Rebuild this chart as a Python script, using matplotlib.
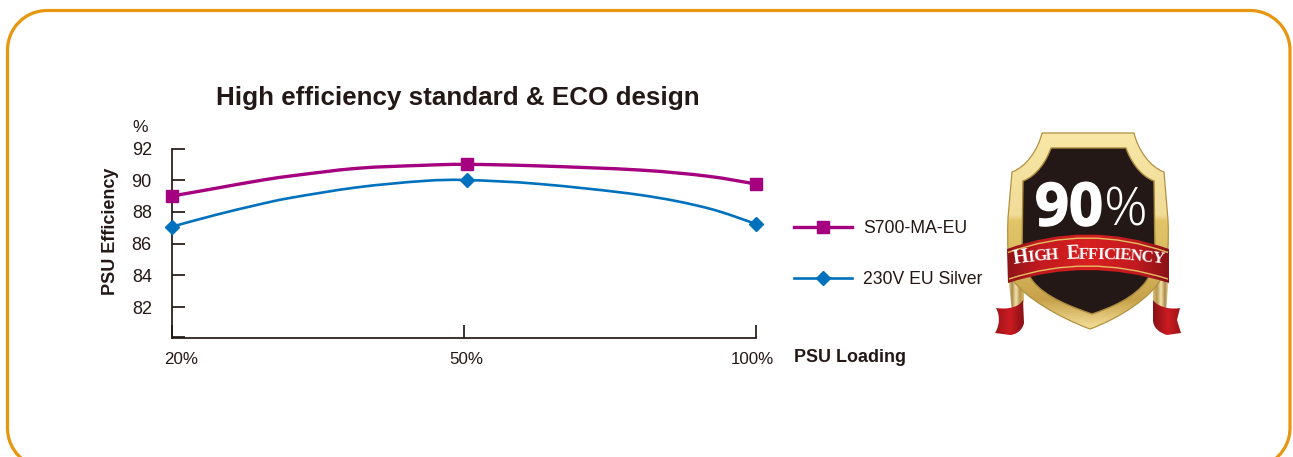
import numpy as np
import matplotlib
matplotlib.use("Agg")
import matplotlib.pyplot as plt
import matplotlib.patheffects as pe
from matplotlib.colors import to_rgb
from matplotlib.font_manager import FontProperties
from matplotlib.lines import Line2D
from matplotlib.patches import PathPatch
from matplotlib.path import Path
from matplotlib.textpath import text_to_path
from matplotlib.transforms import ScaledTranslation

plt.rcParams['font.family'] = ['Liberation Sans', 'DejaVu Sans']

### chart values
load_labels = ["20%", "50%", "100%"]
load_ticks = [0, 1, 2]
efficiency_ticks = [82, 84, 86, 88, 90, 92]

curve_x = [0, 0.147, 0.291, 0.404, 0.634, 0.860, 1.009, 1.26, 1.603, 1.832, 2]
s700_values = [89.00, 89.48, 89.95, 90.26, 90.75, 90.94, 91.00, 90.90, 90.64, 90.26, 89.76]
silver_values = [87.07, 87.80, 88.44, 88.88, 89.55, 89.95, 90.01, 89.76, 89.07, 88.25, 87.24]
measured_idx = [0, 6, 10]
###---------------------------------------------------------------------

W, H = 1293, 457
DARK = "#231815"
MAGENTA = "#a5007f"
BLUE = "#0071bc"
ORANGE = "#e8950f"

fig = plt.figure(figsize=(W / 100, H / 100), dpi=100, facecolor="white")

### overlay in pixel coordinates for the frame, the texts and the badge
bg = fig.add_axes([0, 0, 1, 1])
bg.set_xlim(0, W)
bg.set_ylim(H, 0)
bg.axis("off")


def bez(start, *segs):
    verts, codes = [start], [Path.MOVETO]
    for seg in segs:
        verts.extend(seg)
        codes.extend({1: [Path.LINETO], 2: [Path.CURVE3] * 2, 3: [Path.CURVE4] * 3}[len(seg)])
    return Path(verts, codes)


# the frame runs off the bottom of the picture, so its lower edge is never drawn
frame = bez((47.5, 468), [(25, 468), (7.5, 450), (7.5, 428)], [(7.5, 50.5)],
            [(7.5, 28), (25, 10.5), (47.5, 10.5)], [(1250, 10.5)],
            [(1272, 10.5), (1290, 28), (1290, 50.5)], [(1290, 428)],
            [(1290, 450), (1272, 468), (1250, 468)])
bg.add_patch(PathPatch(frame, fc="none", ec=ORANGE, lw=2.3))

bg.text(458, 98, "High efficiency standard & ECO design", fontsize=18.7, fontweight="bold",
        color=DARK, ha="center", va="center")
bg.text(140, 127, "%", fontsize=12.5, color=DARK, ha="center", va="center")
bg.text(110.5, 231, "PSU Efficiency", fontsize=13, fontweight="bold", color=DARK,
        rotation=90, ha="center", va="center")
bg.text(794, 358, "PSU Loading", fontsize=12.9, fontweight="bold", color=DARK, ha="left", va="center")


def smooth_path(xs, ys):
    # catmull-rom through the read points, as cubic segments
    pts = np.column_stack([xs, ys])
    verts, codes = [pts[0]], [Path.MOVETO]
    for i in range(len(pts) - 1):
        before = pts[max(i - 1, 0)]
        after = pts[min(i + 2, len(pts) - 1)]
        verts += [pts[i] + (pts[i + 1] - before) / 6, pts[i + 1] - (after - pts[i]) / 6, pts[i + 1]]
        codes += [Path.CURVE4] * 3
    return Path(verts, codes)


### the chart itself
left, right, top, bottom = 172, 756, 148.5, 337.5
ax = fig.add_axes([left / W, 1 - bottom / H, (right - left) / W, (bottom - top) / H])
ax.patch.set_alpha(0)
ax.set_xlim(0, 2)
ax.set_ylim(80.08, 92)
for side in ["top", "right"]:
    ax.spines[side].set_visible(False)
for side in ["left", "bottom"]:
    ax.spines[side].set_linewidth(1.25)
    ax.spines[side].set_color(DARK)

series = [("S700-MA-EU", s700_values, MAGENTA, 2.4, "s", 8.6),
          ("230V EU Silver", silver_values, BLUE, 1.9, "D", 7.0)]
handles = []
for name, values, colour, lw, marker, ms in series:
    ax.add_patch(PathPatch(smooth_path(curve_x, values), fc="none", ec=colour, lw=lw, clip_on=False, zorder=3))
    ax.plot([curve_x[i] for i in measured_idx], [values[i] for i in measured_idx], ls="none", color=colour,
            marker=marker, ms=ms, clip_on=False, zorder=4)
    handles.append(Line2D([], [], color=colour, lw=lw, marker=marker, ms=ms, label=name))

ax.set_yticks(efficiency_ticks + [80.14], [str(v) for v in efficiency_ticks] + [""])
ax.set_xticks(load_ticks, load_labels)
ax.tick_params(axis="y", direction="in", length=9.4, width=1.25, color=DARK, labelcolor=DARK,
               labelsize=13, pad=14.5)
ax.tick_params(axis="x", direction="in", length=9.4, width=1.25, color=DARK, labelcolor=DARK,
               labelsize=12.2, pad=10.5)
# the loading labels do not sit quite under their ticks
for lab, dx in zip(ax.get_xticklabels(), [9, 2, -4]):
    lab.set_transform(lab.get_transform() + ScaledTranslation(dx / 100, 0, fig.dpi_scale_trans))

ax.legend(handles=handles, loc="upper left", bbox_to_anchor=(794 / W, 1 - 220 / H),
          bbox_transform=fig.transFigure, frameon=False, fontsize=12.7, numpoints=1, handlelength=3.3,
          handletextpad=0.6, labelspacing=1.95, borderpad=0, borderaxespad=0, labelcolor=DARK)
###---------------------------------------------------------------------


def gradient(stops, colors, n=256):
    pos = np.linspace(stops[0], stops[-1], n)
    rgb = np.array([to_rgb(c) for c in colors])
    return np.stack([np.interp(pos, stops, rgb[:, i]) for i in range(3)], axis=-1)


def fill_gradient(path, stops, colors, horizontal=False, zorder=5):
    patch = PathPatch(path, fc="none", ec="none", zorder=zorder)
    bg.add_patch(patch)
    grad = gradient(stops, colors)
    img = grad[np.newaxis, :, :] if horizontal else grad[:, np.newaxis, :]
    if horizontal:
        extent = (stops[0], stops[-1], 400, 100)
    else:
        extent = (980, 1200, stops[-1], stops[0])
    im = bg.imshow(img, extent=extent, aspect="auto", zorder=zorder)
    im.set_clip_path(patch)
    bg.set_xlim(0, W)
    bg.set_ylim(H, 0)


### badge
outer = bez((1042, 133), [(1134, 133)], [(1138, 150), (1150, 167), (1164, 172)], [(1168, 220)],
            [(1169, 245), (1168, 262), (1162, 277)], [(1152, 297), (1120, 318), (1090, 329)],
            [(1060, 318), (1024, 297), (1013, 280)], [(1008, 265), (1007, 245), (1008, 218)],
            [(1012, 172)], [(1026, 167), (1038, 150), (1042, 133)])
inner = bez((1051, 148), [(1126, 148)], [(1130, 160), (1140, 176), (1154, 181)], [(1155, 255)],
            [(1155, 265), (1150, 274), (1147, 280)], [(1135, 298), (1110, 308), (1092, 314)],
            [(1075, 308), (1045, 298), (1032, 280)], [(1028, 274), (1022, 265), (1022, 250)],
            [(1023, 181)], [(1037, 176), (1047, 160), (1051, 148)])

# ribbon ends hanging behind the shield
strip_l = bez((1008, 275), [(1024, 275)], [(1024, 302)], [(1012, 312)], [(1008, 275)])
strip_r = bez((1153, 275), [(1169, 275)], [(1166, 312)], [(1153, 302)], [(1153, 275)])
fill_gradient(strip_l, [1008, 1012, 1016, 1020, 1024], ["#f6e7b5", "#a98a4a", "#f4e3ac", "#b79650", "#d9bd72"],
              horizontal=True, zorder=3)
fill_gradient(strip_r, [1153, 1157, 1161, 1165, 1169], ["#d9bd72", "#b79650", "#f4e3ac", "#a98a4a", "#f6e7b5"],
              horizontal=True, zorder=3)
tail_l = bez((996, 308), [(1010, 310), (1020, 306), (1023, 300)], [(1024, 323)],
             [(1022, 332), (1014, 335), (1010, 335)], [(995, 333)], [(1000, 325), (1000, 315), (996, 308)])
tail_r = bez((1153, 300), [(1157, 306), (1168, 310), (1180, 308)], [(1177, 320)], [(1181, 333)],
             [(1167, 335)], [(1160, 333), (1153, 328), (1153, 320)], [(1153, 300)])
fill_gradient(tail_l, [995, 1010, 1024], ["#9a1518", "#cc1b22", "#861216"], horizontal=True, zorder=4)
fill_gradient(tail_r, [1153, 1168, 1181], ["#861216", "#cc1b22", "#9a1518"], horizontal=True, zorder=4)

fill_gradient(outer, [133, 215, 221, 262, 300, 329],
              ["#f8e7a6", "#f1dc98", "#e2c468", "#d8b95f", "#c8a24a", "#f4df9a"], zorder=5)
bg.add_patch(PathPatch(outer, fc="none", ec="#b3903f", lw=0.9, zorder=6))
bg.add_patch(PathPatch(inner, fc="#231815", ec="#a98a3f", lw=1.0, zorder=6))

open_sans = ["Open Sans", "DejaVu Sans"]
bg.text(1069, 225.5, "90", fontsize=43, fontweight="bold", family=open_sans, color="white", ha="center",
        va="baseline", zorder=7, path_effects=[pe.withStroke(linewidth=1.0, foreground="white")])
bg.text(1125.5, 226, "%", fontsize=39, fontweight="light", family=open_sans, color="white", ha="center",
        va="baseline", zorder=7)

ribbon = bez((1007, 249), [(1087, 220), (1169, 249)], [(1169, 283)], [(1087, 257), (1008, 283)], [(1007, 249)])
fill_gradient(ribbon, [1007, 1040, 1087, 1135, 1169], ["#8e1418", "#c21a20", "#d8201f", "#c21a20", "#8a1216"],
              horizontal=True, zorder=8)
bg.add_patch(PathPatch(bez((1008, 252.5), [(1087, 223.5), (1168, 252.5)]), fc="none", ec="#e4bf62", lw=1.0, zorder=9))
bg.add_patch(PathPatch(bez((1009, 279), [(1087, 253), (1168, 279)]), fc="none", ec="#e4bf62", lw=1.0, zorder=9))

# small caps, letter by letter along the ribbon
serif = "Liberation Serif"
letters = "HIGH  EFFICIENCY"
big = {0, 6}
sizes = [14.5 if i in big else 12 for i in range(len(letters))]
adv = []
for ch, size in zip(letters, sizes):
    prop = FontProperties(family=serif, weight="bold", size=size)
    w, _, _ = text_to_path.get_text_width_height_descent(ch if ch != " " else "n", prop, False)
    adv.append(w / 0.72 * (0.55 if ch == " " else 1.0))
adv = np.array(adv)
x_chars = 1014 + np.concatenate(([0], np.cumsum(adv)[:-1])) * (1162 - 1014) / adv.sum()
for ch, size, xc in zip(letters, sizes, x_chars):
    d = xc - 1088
    yc = 258.5 + 0.001 * d ** 2
    bg.text(xc, yc, ch, family=serif, fontweight="bold", fontsize=size, color="white",
            rotation=-np.degrees(np.arctan(0.002 * d)), rotation_mode="anchor",
            ha="left", va="baseline", zorder=10)
###---------------------------------------------------------------------

plt.savefig("out.png", dpi=100, facecolor="white")
